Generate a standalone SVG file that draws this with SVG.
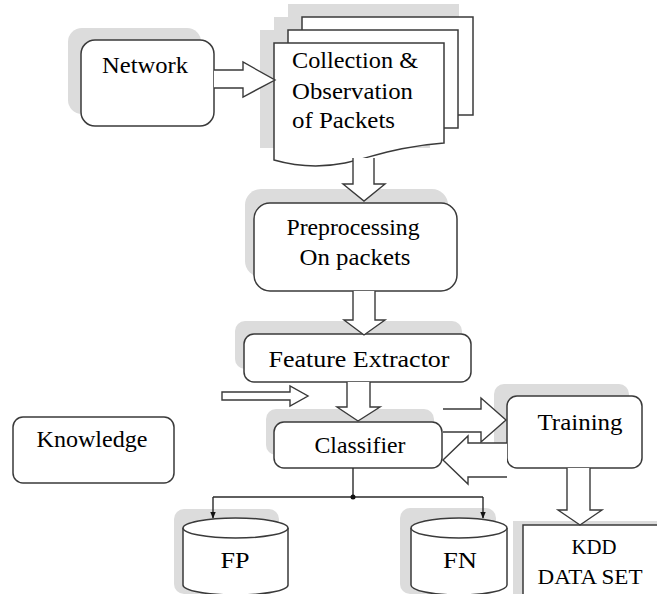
<svg xmlns="http://www.w3.org/2000/svg" width="657" height="594" viewBox="0 0 657 594">
<defs>
<style>
.box{fill:#fff;stroke:#3a3a3a;stroke-width:1.5}
.shadow{fill:#dcdcdc;stroke:none}
.blk{fill:#fff;stroke:#3a3a3a;stroke-width:1.4;stroke-linejoin:miter}
.line{fill:none;stroke:#2a2a2a;stroke-width:1.4}
.t{font-family:'Liberation Serif','Times New Roman',serif;font-size:24px;fill:#000}
</style>
<marker id="ah" viewBox="0 0 10 10" refX="9" refY="5" markerWidth="5" markerHeight="5" orient="auto">
<path d="M0,1 L10,5 L0,9 Z" fill="#111"/>
</marker>
</defs>
<rect width="657" height="594" fill="#fff"/>

<g id="shadows">
<rect class="shadow" x="68" y="28" width="133" height="86" rx="14"/>
<rect class="shadow" x="288" y="4" width="171" height="98"/>
<rect class="shadow" x="274" y="17" width="171" height="101"/>
<rect class="shadow" x="260" y="30" width="170" height="118"/>
<rect class="shadow" x="245" y="189" width="203" height="88" rx="16"/>
<rect class="shadow" x="235" y="321" width="227" height="48" rx="10"/>
<rect class="shadow" x="266" y="409" width="168" height="46" rx="10"/>
<rect class="shadow" x="494" y="384" width="135" height="72" rx="10"/>
<rect class="shadow" x="174" y="509" width="105" height="85" rx="10"/>
<rect class="shadow" x="400" y="508" width="96" height="86" rx="10"/>
<rect class="shadow" x="513" y="521" width="144" height="73"/>
</g>

<g id="network">
<rect class="box" x="81" y="40" width="133" height="86" rx="14"/>
<text class="t" x="145" y="73" text-anchor="middle" textLength="86" lengthAdjust="spacingAndGlyphs">Network</text>
</g>

<g id="collection">
<rect class="box" x="302" y="17" width="171" height="98"/>
<rect class="box" x="288" y="30" width="170" height="98"/>
<path class="box" d="M274,43 H444 V143 C400,146 372,157 345,163 C320,168 295,166 274,160 Z"/>
<text class="t" x="292" y="68" textLength="126" lengthAdjust="spacingAndGlyphs">Collection &amp;</text>
<text class="t" x="292" y="99" textLength="121" lengthAdjust="spacingAndGlyphs">Observation</text>
<text class="t" x="292" y="128" textLength="103" lengthAdjust="spacingAndGlyphs">of Packets</text>
</g>

<g id="preprocessing">
<rect class="box" x="254" y="203" width="203" height="88" rx="16"/>
<text class="t" x="353" y="235" text-anchor="middle" textLength="133" lengthAdjust="spacingAndGlyphs">Preprocessing</text>
<text class="t" x="355" y="265" text-anchor="middle" textLength="111" lengthAdjust="spacingAndGlyphs">On packets</text>
</g>

<g id="feature-extractor">
<rect class="box" x="244" y="334" width="227" height="48" rx="10"/>
<text class="t" x="359" y="367" text-anchor="middle" textLength="181" lengthAdjust="spacingAndGlyphs">Feature Extractor</text>
</g>

<g id="knowledge">
<rect class="box" x="13" y="417" width="161" height="66" rx="10"/>
<text class="t" x="92" y="447" text-anchor="middle" textLength="111" lengthAdjust="spacingAndGlyphs">Knowledge</text>
</g>

<g id="classifier">
<rect class="box" x="274" y="422" width="168" height="46" rx="10"/>
<text class="t" x="360" y="453" text-anchor="middle" textLength="91" lengthAdjust="spacingAndGlyphs">Classifier</text>
</g>

<g id="training">
<rect class="box" x="507" y="396" width="135" height="72" rx="10"/>
<text class="t" x="580" y="430" text-anchor="middle" textLength="85" lengthAdjust="spacingAndGlyphs">Training</text>
</g>

<g id="kdd">
<path class="box" d="M523,600 V525 H662 V600"/>
<text class="t" x="594" y="554" text-anchor="middle" style="font-size:21px" textLength="45" lengthAdjust="spacingAndGlyphs">KDD</text>
<text class="t" x="590" y="584" text-anchor="middle" style="font-size:21px" textLength="105" lengthAdjust="spacingAndGlyphs">DATA SET</text>
</g>

<g id="fp">
<path class="box" d="M183,528 V585 A52.5,10 0 0 0 288,585 V528 A52.5,10 0 0 0 183,528 Z"/>
<path class="box" d="M183,528 A52.5,10 0 0 0 288,528" fill="none"/>
<text class="t" x="235" y="568" text-anchor="middle" textLength="29" lengthAdjust="spacingAndGlyphs">FP</text>
</g>

<g id="fn">
<path class="box" d="M411,528 V585 A48,10 0 0 0 507,585 V528 A48,10 0 0 0 411,528 Z"/>
<path class="box" d="M411,528 A48,10 0 0 0 507,528" fill="none"/>
<text class="t" x="460" y="568" text-anchor="middle" textLength="34" lengthAdjust="spacingAndGlyphs">FN</text>
</g>

<g id="connectors">
<path class="blk" d="M214,70 H243 V62 L275,80 L243,97 V88 H214"/>
<path class="blk" d="M353,158 V184 H343 L364,201 L385,184 H374 V158"/>
<path class="blk" d="M353,291 V320 H344 L364,335 L385,320 H375 V291"/>
<path class="blk" d="M347,382 V407 H337 L358,421 L380,407 H370 V382"/>
<path class="blk" d="M222,392 H290 V386 L308,396 L290,406 V400 H222 Z"/>
<path class="blk" d="M443,409 H481 V398 L506,420 L481,442 V432 H443"/>
<path class="blk" d="M507,443 H468 V436 L443,460 L468,484 V477 H507"/>
<path class="blk" d="M567,468 V510 H558 L580,525 L602,510 H590 V468"/>
<path class="line" d="M353,468 V497"/>
<path class="line" d="M213,497 H483"/>
<path class="line" d="M213,497 V518" marker-end="url(#ah)"/>
<path class="line" d="M483,497 V518" marker-end="url(#ah)"/>
<circle cx="353" cy="497" r="2.5" fill="#111"/>
</g>
</svg>
